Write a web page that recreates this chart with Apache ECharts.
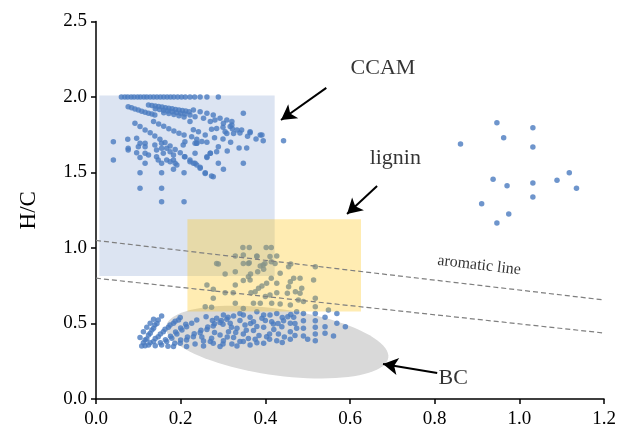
<!DOCTYPE html>
<html>
<head>
<meta charset="utf-8">
<script src="https://cdn.jsdelivr.net/npm/echarts/dist/echarts.min.js"></script>
<style>
html,body{margin:0;padding:0;background:#fff}
#chart{width:638px;height:442px}
</style>
</head>
<body>
<div id="chart"></div>
<script>
// Van Krevelen style plot: H/C against O/C for CCAM, lignin and BC compounds
const xTicks = [0, 0.2, 0.4, 0.6, 0.8, 1.0, 1.2];
const yTicks = [0, 0.5, 1.0, 1.5, 2.0, 2.5];

const ccam = [
  [0.060,2.00],[0.068,2.00],[0.075,2.00],[0.083,2.00],[0.090,2.00],[0.098,2.00],[0.105,2.00],[0.113,2.00],
  [0.120,2.00],[0.128,2.00],[0.136,2.00],[0.144,2.00],[0.152,2.00],[0.160,2.00],[0.168,2.00],[0.176,2.00],
  [0.184,2.00],[0.193,2.00],[0.202,2.00],[0.211,2.00],[0.222,2.00],[0.233,2.00],[0.246,2.00],[0.262,2.00],[0.289,2.00],
  [0.076,1.936],[0.084,1.929],[0.092,1.921],[0.100,1.914],[0.108,1.906],[0.116,1.899],[0.124,1.893],[0.132,1.887],[0.139,1.881],
  [0.124,1.947],[0.132,1.944],[0.140,1.940],[0.148,1.937],[0.156,1.933],[0.164,1.929],[0.172,1.926],[0.180,1.922],
  [0.188,1.918],[0.196,1.914],[0.204,1.911],[0.212,1.907],[0.220,1.903],[0.230,1.914],[0.246,1.903],[0.262,1.892],
  [0.277,1.881],[0.293,1.859],[0.309,1.848],[0.321,1.837],
  [0.140,1.922],[0.150,1.918],[0.160,1.913],[0.170,1.908],[0.180,1.903],[0.190,1.898],[0.200,1.893],[0.210,1.888],
  [0.222,1.880],[0.234,1.870],[0.254,1.859],[0.270,1.837],[0.281,1.848],[0.301,1.826],[0.317,1.804],
  [0.160,1.896],[0.172,1.890],[0.184,1.884],[0.196,1.876],[0.208,1.868],[0.222,1.837],
  [0.092,1.826],[0.104,1.804],[0.116,1.781],[0.128,1.764],[0.139,1.742],[0.151,1.720],[0.163,1.698],[0.175,1.675],
  [0.187,1.653],[0.199,1.631],[0.210,1.605],[0.222,1.583],[0.234,1.561],[0.246,1.534],
  [0.136,1.837],[0.148,1.822],[0.160,1.806],[0.172,1.790],[0.184,1.775],[0.196,1.760],[0.208,1.748],[0.226,1.737],
  [0.238,1.720],[0.250,1.705],
  [0.230,1.783],[0.242,1.770],[0.258,1.748],[0.273,1.786],[0.285,1.792],[0.305,1.770],[0.325,1.759],[0.344,1.781],
  [0.348,1.892],[0.364,1.770],[0.388,1.748],[0.395,1.711],[0.443,1.711],[0.238,1.693],[0.289,1.671],
  [0.333,1.781],[0.364,1.764],[0.309,1.759],[0.321,1.815],[0.392,1.748],
  [0.041,1.704],[0.075,1.720],[0.096,1.726],[0.076,1.660],[0.100,1.671],[0.116,1.693],[0.139,1.682],[0.155,1.660],
  [0.041,1.583],[0.076,1.649],[0.096,1.631],[0.104,1.693],[0.116,1.671],[0.116,1.627],[0.124,1.616],[0.104,1.600],
  [0.116,1.561],[0.104,1.499],[0.104,1.395],[0.155,1.499],[0.155,1.395],[0.155,1.307],[0.208,1.307],[0.208,1.499],
  [0.143,1.649],[0.143,1.605],[0.147,1.583],[0.155,1.561],[0.159,1.627],[0.167,1.583],[0.175,1.572],[0.183,1.583],
  [0.187,1.561],[0.183,1.521],[0.191,1.550],[0.155,1.693],[0.167,1.660],[0.175,1.638],[0.183,1.616],[0.209,1.605],
  [0.222,1.572],[0.230,1.561],[0.238,1.550],[0.246,1.528],[0.258,1.494],[0.273,1.477],[0.206,1.682],[0.210,1.704],
  [0.234,1.693],[0.234,1.627],[0.262,1.605],[0.270,1.627],
  [0.258,1.499],[0.277,1.472],[0.301,1.521],[0.289,1.561],[0.348,1.561],[0.262,1.600],[0.285,1.638],[0.270,1.627],
  [0.238,1.693],
  [0.300,1.800],[0.322,1.790],[0.340,1.762],[0.358,1.740],[0.378,1.722],[0.300,1.722],[0.318,1.700],[0.338,1.662],
  [0.356,1.662],[0.262,1.700],[0.280,1.730],[0.310,1.642]
];

const lignin = [
  [0.347,1.004],[0.362,1.004],[0.402,1.004],[0.414,1.004],[0.329,0.947],[0.348,0.954],[0.380,0.947],[0.427,0.947],
  [0.289,0.894],[0.348,0.898],[0.362,0.903],[0.399,0.898],[0.414,0.909],[0.388,0.881],[0.382,0.843],[0.396,0.859],
  [0.305,0.828],[0.329,0.843],[0.365,0.828],[0.360,0.810],[0.348,0.784],[0.364,0.788],[0.414,0.799],[0.435,0.832],
  [0.455,0.876],[0.460,0.894],[0.427,0.766],[0.403,0.766],[0.392,0.748],[0.384,0.733],[0.376,0.711],[0.459,0.777],
  [0.467,0.799],[0.455,0.744],[0.471,0.711],[0.452,0.700],[0.427,0.704],[0.411,0.689],[0.400,0.678],[0.366,0.704],
  [0.329,0.755],[0.262,0.755],[0.277,0.726],[0.324,0.704],[0.305,0.704],[0.277,0.667],[0.329,0.634],[0.273,0.607],
  [0.348,0.600],[0.372,0.634],[0.388,0.634],[0.415,0.634],[0.435,0.629],[0.459,0.623],[0.478,0.656],[0.518,0.876],
  [0.514,0.788],[0.482,0.799],[0.486,0.733],[0.482,0.700],[0.518,0.667],[0.490,0.645],[0.518,0.611],[0.549,0.589],
  [0.258,0.611],[0.285,0.898],[0.360,0.898],[0.380,0.943],[0.411,0.943],[0.395,0.887],[0.423,0.898]
];

const bc = [
  [0.108,0.351],[0.116,0.391],[0.124,0.424],[0.132,0.457],[0.139,0.490],[0.147,0.523],[0.155,0.550],
  [0.104,0.408],[0.112,0.446],[0.120,0.475],[0.128,0.501],[0.136,0.528],
  [0.124,0.358],[0.136,0.380],[0.147,0.413],[0.159,0.446],[0.171,0.475],[0.183,0.501],[0.195,0.523],
  [0.155,0.358],[0.167,0.380],[0.179,0.402],[0.191,0.430],[0.203,0.457],[0.214,0.479],[0.226,0.501],[0.238,0.523],
  [0.183,0.347],[0.199,0.369],[0.214,0.391],[0.230,0.413],[0.246,0.439],[0.262,0.461],[0.277,0.483],[0.293,0.506],
  [0.309,0.528],[0.325,0.550],[0.340,0.567],
  [0.214,0.347],[0.234,0.364],[0.254,0.384],[0.273,0.402],[0.293,0.424],[0.313,0.446],[0.333,0.468],[0.352,0.490],
  [0.372,0.512],[0.392,0.534],[0.411,0.556],
  [0.254,0.351],[0.277,0.369],[0.301,0.386],[0.325,0.408],[0.348,0.430],[0.372,0.453],[0.396,0.475],[0.419,0.497],
  [0.443,0.519],[0.467,0.541],
  [0.293,0.347],[0.321,0.364],[0.348,0.380],[0.376,0.395],[0.403,0.413],[0.431,0.430],[0.459,0.446],
  [0.333,0.351],[0.364,0.358],[0.396,0.369],[0.427,0.386],[0.459,0.395],
  [0.285,0.534],[0.301,0.556],[0.317,0.501],[0.348,0.556],[0.364,0.541],[0.380,0.578],[0.396,0.556],[0.415,0.512],
  [0.427,0.567],[0.439,0.479],[0.453,0.545],[0.459,0.501],[0.474,0.468],[0.474,0.578],
  [0.490,0.567],[0.490,0.519],[0.490,0.468],[0.490,0.417],[0.518,0.567],[0.518,0.519],[0.518,0.475],[0.518,0.430],
  [0.518,0.386],[0.541,0.541],[0.541,0.479],[0.541,0.435],[0.569,0.567],[0.569,0.501],[0.561,0.417],[0.589,0.479],
  [0.112,0.372],[0.120,0.398],[0.128,0.436],[0.136,0.468],[0.144,0.500],
  [0.116,0.352],[0.128,0.372],[0.140,0.400],[0.152,0.430],[0.163,0.462],[0.175,0.490],[0.187,0.515],[0.199,0.540],
  [0.140,0.352],[0.152,0.372],[0.164,0.392],[0.176,0.415],[0.188,0.444],[0.200,0.470],[0.212,0.495],
  [0.170,0.350],[0.186,0.370],[0.200,0.390],[0.216,0.410],[0.232,0.432],[0.248,0.455],[0.264,0.476],[0.280,0.498],
  [0.296,0.520],[0.312,0.542],
  [0.260,0.545],[0.275,0.520],[0.300,0.495],[0.320,0.475],[0.340,0.520],[0.355,0.455],[0.380,0.480],[0.400,0.520],
  [0.420,0.460],[0.440,0.540],[0.445,0.410],[0.470,0.420],[0.470,0.500],[0.460,0.560],[0.430,0.500],[0.410,0.430],
  [0.385,0.420],[0.360,0.400],[0.340,0.380],[0.310,0.410],[0.280,0.440],[0.250,0.410],[0.270,0.380],[0.300,0.365],
  [0.380,0.372],[0.410,0.395],[0.440,0.375],[0.500,0.395],[0.330,0.440],[0.365,0.500]
];

const others = [
  [0.947,1.830],[1.032,1.797],[0.963,1.730],[0.861,1.689],[1.032,1.669],[0.938,1.455],[0.971,1.413],[1.032,1.430],
  [1.089,1.448],[1.118,1.499],[1.135,1.395],[1.032,1.338],[0.911,1.293],[0.975,1.225],[0.947,1.166]
];

// Shaded compound regions (x range, y range) and the BC ellipse
const ccamZone = { x: [0.008, 0.422], y: [0.815, 2.01] };
const ligninZone = { x: [0.216, 0.626], y: [0.58, 1.19] };
const bcZone = { cx: 0.428, cy: 0.377, rx: 0.265, ry: 0.22, tilt: 8 };

// Aromatic reference lines, each as two end points
const aromaticUpper = [[0, 1.05], [1.2, 0.656]];
const aromaticLower = [[0, 0.80], [1.2, 0.437]];

// Annotation arrows: from, to
const arrows = [
  [[0.544, 2.06], [0.437, 1.848]],
  [[0.664, 1.41], [0.593, 1.225]],
  [[0.806, 0.172], [0.678, 0.232]]
];
const notes = [
  { name: 'CCAM', value: [0.678, 2.19] },
  { name: 'lignin', value: [0.707, 1.596] },
  { name: 'BC', value: [0.844, 0.139] }
];

const serif = '"Liberation Serif", "Times New Roman", serif';
const dotColor = '#4a7bbf';

function zoneRect(zone, fill) {
  return function (params, api) {
    const a = api.coord([zone.x[0], zone.y[1]]);
    const b = api.coord([zone.x[1], zone.y[0]]);
    return { type: 'rect', shape: { x: a[0], y: a[1], width: b[0] - a[0], height: b[1] - a[1] }, style: { fill: fill } };
  };
}

function ellipse(params, api) {
  const c = api.coord([bcZone.cx, bcZone.cy]);
  const s = api.size([bcZone.rx, bcZone.ry]);
  const t = bcZone.tilt * Math.PI / 180;
  const pts = [];
  for (let i = 0; i < 90; i++) {
    const a = i / 90 * Math.PI * 2;
    const ex = s[0] * Math.cos(a), ey = s[1] * Math.sin(a);
    pts.push([c[0] + ex * Math.cos(t) - ey * Math.sin(t), c[1] + ex * Math.sin(t) + ey * Math.cos(t)]);
  }
  return { type: 'polygon', shape: { points: pts }, style: { fill: '#d9d9d9' } };
}

const dotSeries = (name, data) => ({
  name, type: 'scatter', data, symbolSize: 5.5, z: 3,
  itemStyle: { color: dotColor }, silent: true, animation: false
});

const textSeries = (data, size, rotate) => ({
  type: 'scatter', data, symbolSize: 1, z: 6, silent: true,
  itemStyle: { color: 'rgba(0,0,0,0)' },
  label: { show: true, position: 'inside', formatter: '{b}', rotate: rotate, color: '#000', fontFamily: serif, fontSize: size }
});

const chart = echarts.init(document.getElementById('chart'));
chart.setOption({
  animation: false,
  grid: { left: 96, right: 34, top: 21.5, bottom: 43 },
  xAxis: {
    type: 'value', min: xTicks[0], max: xTicks[xTicks.length - 1], interval: 0.2,
    axisLine: { lineStyle: { color: '#000', width: 1.5 } },
    axisTick: { length: 5, lineStyle: { color: '#000', width: 1.5 } },
    axisLabel: { color: '#000', fontFamily: serif, fontSize: 19, margin: 11, formatter: v => v.toFixed(1) },
    splitLine: { show: false }
  },
  yAxis: {
    type: 'value', min: yTicks[0], max: yTicks[yTicks.length - 1], interval: 0.5,
    name: 'H/C', nameLocation: 'middle', nameGap: 56,
    nameTextStyle: { color: '#000', fontFamily: serif, fontSize: 23 },
    axisLine: { lineStyle: { color: '#000', width: 1.5 } },
    axisTick: { length: 5, lineStyle: { color: '#000', width: 1.5 } },
    axisLabel: { color: '#000', fontFamily: serif, fontSize: 19, margin: 9, formatter: v => v.toFixed(1) },
    splitLine: { show: false }
  },
  series: [
    { type: 'custom', renderItem: ellipse, data: [[bcZone.cx, bcZone.cy]], z: 1, silent: true, clip: false },
    { type: 'custom', renderItem: zoneRect(ccamZone, '#dce4f2'), data: [[ccamZone.x[0], ccamZone.y[0]]], z: 2, silent: true },
    dotSeries('CCAM', ccam),
    dotSeries('lignin', lignin),
    dotSeries('BC', bc),
    dotSeries('others', others),
    { type: 'custom', renderItem: zoneRect(ligninZone, 'rgba(255,196,20,0.33)'), data: [[ligninZone.x[0], ligninZone.y[0]]], z: 4, silent: true },
    { type: 'line', data: aromaticUpper, symbol: 'none', z: 5, silent: true,
      lineStyle: { color: '#7f7f7f', width: 1.2, type: [5, 3] } },
    { type: 'line', data: aromaticLower, symbol: 'none', z: 5, silent: true,
      lineStyle: { color: '#7f7f7f', width: 1.2, type: [5, 3] } },
    {
      type: 'scatter', data: [], z: 6, silent: true,
      markLine: {
        silent: true, symbol: ['none', 'arrow'], symbolSize: [13, 15], animation: false,
        lineStyle: { color: '#000', width: 2, type: 'solid' }, label: { show: false },
        data: arrows.map(a => [{ coord: a[0] }, { coord: a[1] }])
      }
    },
    textSeries(notes, 22, 0),
    textSeries([{ name: 'aromatic line', value: [0.905, 0.885] }], 16, -6.7)
  ]
});
</script>
</body>
</html>
